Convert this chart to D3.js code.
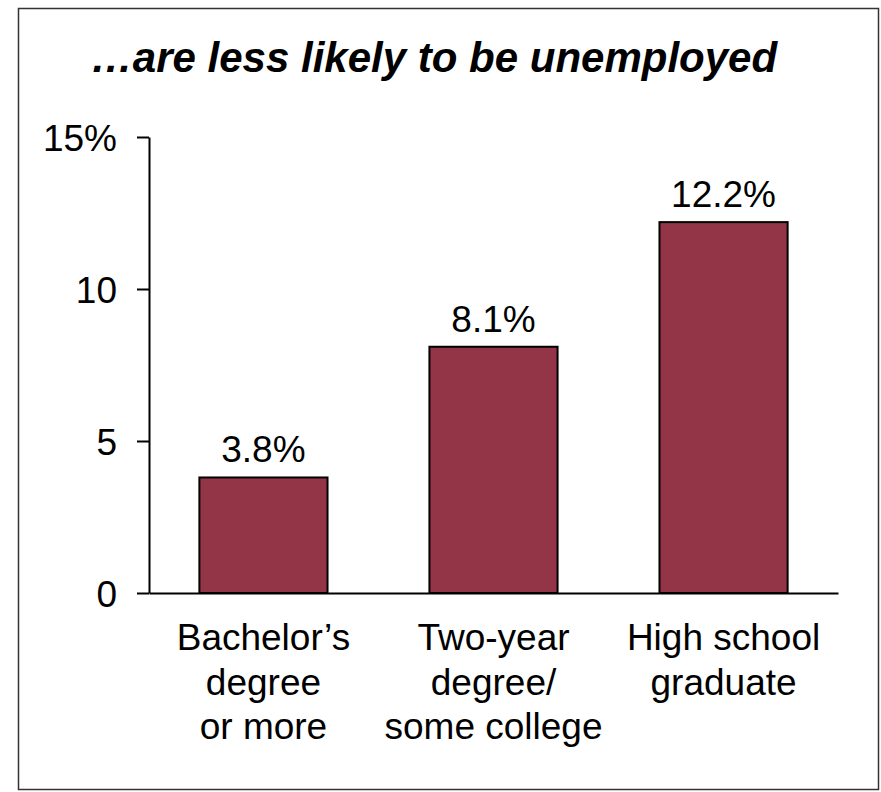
<!DOCTYPE html>
<html lang="en">
<head>
    <meta charset="UTF-8">
    <title>Unemployment by education</title>
    <script src="https://d3js.org/d3.v7.min.js"></script>
    <style>
        body { margin: 0; background: #fff; }
        text { font-family: "Liberation Sans", Arial, sans-serif; fill: #000; }
        .axis text { font-size: 37px; }
        .axis path, .axis line { stroke: #000; stroke-width: 2px; }
    </style>
</head>
<body>
    <svg width="881" height="792"></svg>
    <script>
        // data
        const categories = ["Bachelor’s degree or more", "Two-year degree/ some college", "High school graduate"];
        const labelLines = [
            ["Bachelor’s", "degree", "or more"],
            ["Two-year", "degree/", "some college"],
            ["High school", "graduate"]
        ];
        const values = [3.8, 8.1, 12.2];
        const yTicks = [0, 5, 10, 15];
        const yTickLabels = ["0", "5", "10", "15%"];
        const title = "…are less likely to be unemployed";

        const width = 881, height = 792;
        const svg = d3.select("svg");

        // frame
        svg.append("rect")
            .attr("x", 18.5).attr("y", 8.5)
            .attr("width", 860).attr("height", 781)
            .attr("fill", "none")
            .attr("stroke", "#333")
            .attr("stroke-width", 1.5);

        svg.append("text")
            .attr("x", 434).attr("y", 72)
            .attr("text-anchor", "middle")
            .style("font-size", "42px")
            .style("font-weight", "bold")
            .style("font-style", "italic")
            .text(title);

        const x = d3.scaleBand()
            .domain(categories)
            .range([149, 838])
            .paddingInner(0.443)
            .paddingOuter(0.219);

        const y = d3.scaleLinear().domain([0, 15]).range([593, 137]);

        // bars
        svg.append("g")
            .selectAll("rect")
            .data(values)
            .join("rect")
            .attr("x", (d, i) => x(categories[i]))
            .attr("y", d => y(d))
            .attr("width", x.bandwidth())
            .attr("height", d => y(0) - y(d))
            .attr("fill", "#943447")
            .attr("stroke", "#000")
            .attr("stroke-width", 2);

        // value labels
        svg.append("g")
            .selectAll("text")
            .data(values)
            .join("text")
            .attr("x", (d, i) => x(categories[i]) + x.bandwidth() / 2)
            .attr("y", d => y(d) - 15)
            .attr("text-anchor", "middle")
            .style("font-size", "37px")
            .text(d => d.toFixed(1) + "%");

        // y axis
        svg.append("g")
            .attr("class", "axis")
            .attr("transform", "translate(149,0)")
            .call(d3.axisLeft(y)
                .tickValues(yTicks)
                .tickFormat((d, i) => yTickLabels[i])
                .tickSize(12)
                .tickSizeOuter(0)
                .tickPadding(20))
            .selectAll("text").attr("dy", "0.36em");

        // x axis
        const xAxis = svg.append("g")
            .attr("class", "axis")
            .attr("transform", `translate(0,${y(0)})`)
            .call(d3.axisBottom(x).tickSize(0).tickSizeOuter(0).tickFormat(""));

        const xl = svg.append("g")
            .selectAll("text")
            .data(categories)
            .join("text")
            .attr("x", d => x(d) + x.bandwidth() / 2)
            .attr("y", 650)
            .attr("text-anchor", "middle")
            .style("font-size", "37px");
        xl.selectAll("tspan")
            .data((d, i) => labelLines[i])
            .join("tspan")
            .attr("x", function () { return this.parentNode.getAttribute("x"); })
            .attr("dy", (d, j) => j === 0 ? 0 : 44.5)
            .text(d => d);
    </script>
</body>
</html>
